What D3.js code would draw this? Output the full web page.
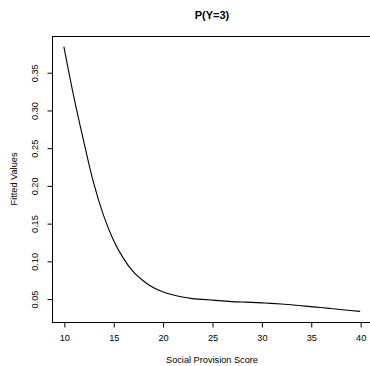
<!DOCTYPE html>
<html>
<head>
<meta charset="utf-8">
<script src="https://cdn.jsdelivr.net/npm/d3@7"></script>
<style>
  html, body { margin: 0; padding: 0; background: #fff; }
  svg { display: block; font-family: "Liberation Sans", Arial, Helvetica, sans-serif; }
</style>
</head>
<body>
<svg id="chart" width="370" height="366"></svg>
<script>
// Data
const scores = [10,11,12,13,14,15,16,17,18,19,20,21,22,23,24,25,26,27,28,29,30,31,32,33,34,35,36,37,38,39,40];
const fitted = [0.384,0.318,0.259,0.204,0.161,0.128,0.104,0.086,0.074,0.065,0.059,0.055,0.052,0.050,0.049,0.048,0.047,0.046,0.0455,0.045,0.0443,0.0436,0.0428,0.0418,0.0406,0.0393,0.0381,0.0368,0.0355,0.0342,0.0330];
const xTicks = [10,15,20,25,30,35,40];
const yTicks = [0.05,0.10,0.15,0.20,0.25,0.30,0.35];
const titleText = "P(Y=3)";
const xLabel = "Social Provision Score";
const yLabel = "Fitted Values";

const svg = d3.select("#chart");
const box = { left: 52, right: 372, top: 36, bottom: 322 };

function padded(ext) {
  const r = ext[1] - ext[0];
  return [ext[0] - 0.04 * r, ext[1] + 0.04 * r];
}

const x = d3.scaleLinear().domain(padded(d3.extent(scores))).range([box.left, box.right]);
const y = d3.scaleLinear().domain(padded(d3.extent(fitted))).range([box.bottom, box.top]);

const data = scores.map((s, i) => ({ s, v: fitted[i] }));

// Curve
svg.append("path")
  .datum(data)
  .attr("fill", "none")
  .attr("stroke", "#000")
  .attr("stroke-width", 1.1)
  .attr("d", d3.line().x(d => x(d.s)).y(d => y(d.v)).curve(d3.curveMonotoneX));

// Box
svg.append("rect")
  .attr("x", box.left + 0.5).attr("y", box.top + 0.5)
  .attr("width", box.right - box.left).attr("height", box.bottom - box.top)
  .attr("fill", "none").attr("stroke", "#000").attr("stroke-width", 1);

const fs = 9.2;

// X axis
const xAxis = svg.append("g")
  .attr("transform", `translate(0.5,${box.bottom + 0.5})`)
  .call(d3.axisBottom(x).tickValues(xTicks).tickSize(5).tickPadding(7).tickFormat(d3.format("d")));
xAxis.select(".domain").attr("d", `M${x(xTicks[0])},0H${x(xTicks[xTicks.length-1])}`);
xAxis.selectAll("text").attr("font-size", fs).attr("fill", "#000").attr("font-family", null);
xAxis.selectAll("line").attr("stroke", "#000");

// Y axis
const yAxis = svg.append("g")
  .attr("transform", `translate(${box.left + 0.5},0.5)`)
  .call(d3.axisLeft(y).tickValues(yTicks).tickSize(5).tickFormat(d3.format(".2f")));
yAxis.select(".domain").attr("d", `M0,${y(yTicks[0])}V${y(yTicks[yTicks.length-1])}`);
yAxis.selectAll("line").attr("stroke", "#000");
yAxis.selectAll("text")
  .attr("font-size", fs).attr("fill", "#000").attr("font-family", null)
  .attr("text-anchor", "middle")
  .attr("x", null).attr("dy", "0.35em")
  .attr("transform", `translate(-17.5,0) rotate(-90)`);

// Title
svg.append("text")
  .attr("x", (box.left + box.right) / 2).attr("y", 15).attr("dy", "0.35em")
  .attr("text-anchor", "middle").attr("font-weight", "bold").attr("font-size", 11)
  .text(titleText);

// Axis labels
svg.append("text")
  .attr("x", (box.left + box.right) / 2).attr("y", 360).attr("dy", "0.35em")
  .attr("text-anchor", "middle").attr("font-size", fs)
  .text(xLabel);

svg.append("text")
  .attr("transform", `translate(13.5,${(box.top + box.bottom) / 2}) rotate(-90)`)
  .attr("dy", "0.35em")
  .attr("text-anchor", "middle").attr("font-size", fs)
  .text(yLabel);
</script>
</body>
</html>
